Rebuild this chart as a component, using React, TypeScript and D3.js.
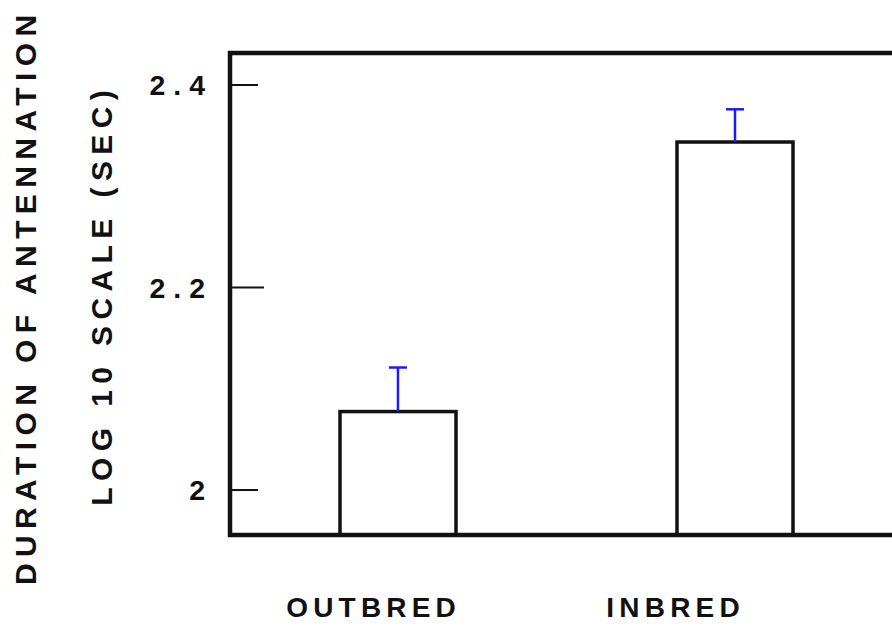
import React from "react";
import * as d3 from "d3";

// Group names, mean log10 durations and upper error (mean + SE)
const groups = ["OUTBRED", "INBRED"];
const means = [2.0775, 2.3437];
const upperErrors = [2.121, 2.376];
const tickValues = [2, 2.2, 2.4];
const tickLabels = ["2", "2.2", "2.4"];
const titleLines = ["DURATION OF ANTENNATION", "LOG 10 SCALE (SEC)"];

const W = 892;
const H = 626;
const FONT = "'Liberation Sans', Arial, Helvetica, sans-serif";

export default function App() {
  const frameLeft = 230;
  const frameTop = 53;
  const frameBottom = 535;

  const y = d3.scaleLinear().domain([1.9556, 2.4316]).range([frameBottom, frameTop]);
  const x = d3.scalePoint<string>().domain(groups).range([398, 735]);
  const labelX = d3.scalePoint<string>().domain(groups).range([371, 673]);
  const barW = 116;
  const capW = 18;

  const titleLS = 6.4;
  const xLS = 5.2;
  const tickLS = 8;

  return (
    <svg
      width={W}
      height={H}
      viewBox={`0 0 ${W} ${H}`}
      style={{ position: "fixed", left: 0, top: 0, background: "#fff" }}
    >
      <rect x={0} y={0} width={W} height={H} fill="#fff" />

      {/* y-axis title, two rotated lines */}
      <text
        transform={`translate(36,300) rotate(-90)`}
        textAnchor="middle"
        fontFamily={FONT}
        fontWeight="bold"
        fontSize={30}
        letterSpacing={titleLS}
        dx={titleLS / 2}
        fill="#111"
      >
        {titleLines[0]}
      </text>
      <text
        transform={`translate(112,298) rotate(-90)`}
        textAnchor="middle"
        fontFamily={FONT}
        fontWeight="bold"
        fontSize={30}
        letterSpacing={titleLS}
        dx={titleLS / 2}
        fill="#111"
      >
        {titleLines[1]}
      </text>

      {/* y ticks and labels */}
      {tickValues.map((v, i) => (
        <g key={v}>
          <line
            x1={frameLeft}
            x2={frameLeft + (v === 2.2 ? 34 : 28)}
            y1={y(v)}
            y2={y(v)}
            stroke="#111"
            strokeWidth={2}
          />
          <text
            x={205 + tickLS}
            y={y(v) + 10}
            textAnchor="end"
            fontFamily={FONT}
            fontWeight="bold"
            fontSize={28.5}
            letterSpacing={tickLS}
            fill="#111"
          >
            {tickLabels[i]}
          </text>
        </g>
      ))}

      {/* bars */}
      {groups.map((g, i) => (
        <rect
          key={g}
          x={(x(g) as number) - barW / 2}
          y={y(means[i])}
          width={barW}
          height={frameBottom - y(means[i])}
          fill="#fff"
          stroke="#111"
          strokeWidth={3.5}
        />
      ))}

      {/* error bars */}
      {groups.map((g, i) => {
        const cx = x(g) as number;
        return (
          <g key={g} stroke="#1a1aff" strokeWidth={2.5}>
            <line x1={cx} x2={cx} y1={y(means[i])} y2={y(upperErrors[i])} />
            <line x1={cx - capW / 2} x2={cx + capW / 2} y1={y(upperErrors[i])} y2={y(upperErrors[i])} />
          </g>
        );
      })}

      {/* frame: left, top, bottom (right side runs past the edge) */}
      <path
        d={`M${W + 10},${frameTop}H${frameLeft}V${frameBottom}H${W + 10}`}
        fill="none"
        stroke="#111"
        strokeWidth={4.5}
        strokeLinejoin="miter"
      />

      {/* category labels */}
      {groups.map((g) => (
        <text
          key={g}
          x={labelX(g) as number}
          dx={xLS / 2}
          y={617}
          textAnchor="middle"
          fontFamily={FONT}
          fontWeight="bold"
          fontSize={28}
          letterSpacing={xLS}
          fill="#111"
        >
          {g}
        </text>
      ))}
    </svg>
  );
}
